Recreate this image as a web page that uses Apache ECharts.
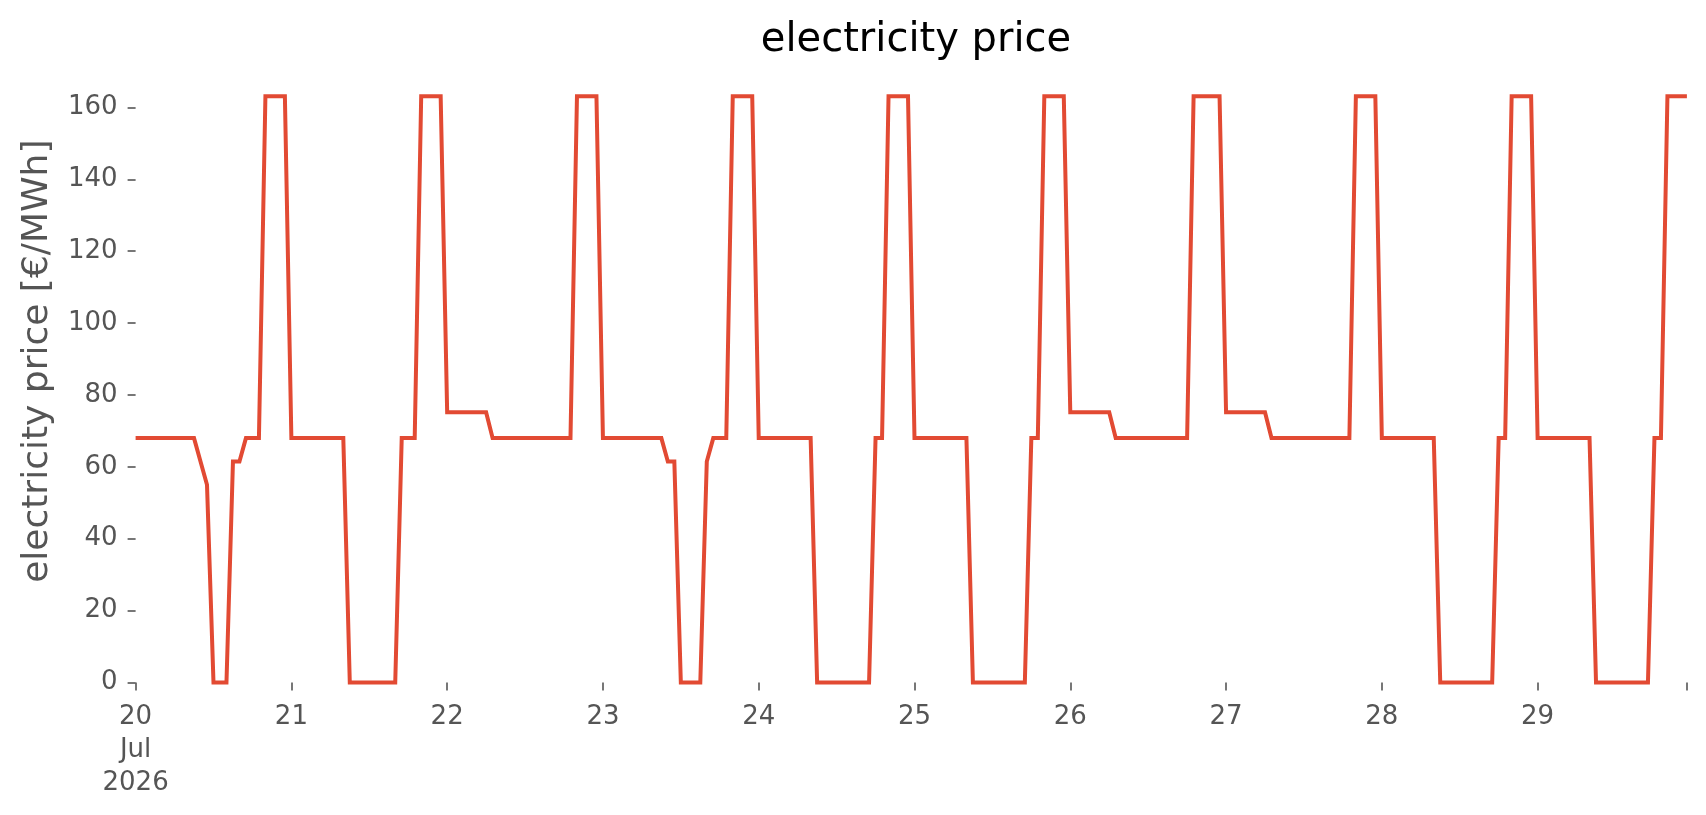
<!DOCTYPE html>
<html>
<head>
<meta charset="utf-8">
<title>electricity price</title>
<script src="https://cdn.jsdelivr.net/npm/echarts@6/dist/echarts.min.js"></script>
<style>
  html, body { margin: 0; padding: 0; background: #fff; }
  #chart { width: 1706px; height: 815px; }
</style>
</head>
<body>
<div id="chart"></div>
<script>
// hourly day-ahead price, 20 Jul 2026 00:00 .. 29 Jul 2026 23:00 [€/MWh]
var day20 = [68, 68, 68, 68, 68, 68, 68, 68, 68, 68, 61.5, 55, 0, 0, 0, 61.5, 61.5, 68, 68, 68, 163.1, 163.1, 163.1, 163.1];
var day21 = [68, 68, 68, 68, 68, 68, 68, 68, 68, 0, 0, 0, 0, 0, 0, 0, 0, 68, 68, 68, 163.1, 163.1, 163.1, 163.1];
var day22 = [75.2, 75.2, 75.2, 75.2, 75.2, 75.2, 75.2, 68, 68, 68, 68, 68, 68, 68, 68, 68, 68, 68, 68, 68, 163.1, 163.1, 163.1, 163.1];
var day23 = [68, 68, 68, 68, 68, 68, 68, 68, 68, 68, 61.5, 61.5, 0, 0, 0, 0, 61.5, 68, 68, 68, 163.1, 163.1, 163.1, 163.1];
var day24 = [68, 68, 68, 68, 68, 68, 68, 68, 68, 0, 0, 0, 0, 0, 0, 0, 0, 0, 68, 68, 163.1, 163.1, 163.1, 163.1];
var day25 = [68, 68, 68, 68, 68, 68, 68, 68, 68, 0, 0, 0, 0, 0, 0, 0, 0, 0, 68, 68, 163.1, 163.1, 163.1, 163.1];
var day26 = [75.2, 75.2, 75.2, 75.2, 75.2, 75.2, 75.2, 68, 68, 68, 68, 68, 68, 68, 68, 68, 68, 68, 68, 163.1, 163.1, 163.1, 163.1, 163.1];
var day27 = [75.2, 75.2, 75.2, 75.2, 75.2, 75.2, 75.2, 68, 68, 68, 68, 68, 68, 68, 68, 68, 68, 68, 68, 68, 163.1, 163.1, 163.1, 163.1];
var day28 = [68, 68, 68, 68, 68, 68, 68, 68, 68, 0, 0, 0, 0, 0, 0, 0, 0, 0, 68, 68, 163.1, 163.1, 163.1, 163.1];
var day29 = [68, 68, 68, 68, 68, 68, 68, 68, 68, 0, 0, 0, 0, 0, 0, 0, 0, 0, 68, 68, 163.1, 163.1, 163.1, 163.1];

var dayLabels = ['20\nJul\n2026', '21', '22', '23', '24', '25', '26', '27', '28', '29'];
var yTicks = [0, 20, 40, 60, 80, 100, 120, 140, 160];

var days = [day20, day21, day22, day23, day24, day25, day26, day27, day28, day29];

// [hour since start, price]
var points = [];
days.forEach(function (d, i) {
    d.forEach(function (v, h) {
        points.push([i * 24 + h, v]);
    });
});
var lastHour = points.length - 1;

var xTicks = dayLabels.map(function (l, i) { return i * 24; });
xTicks.push(lastHour);

var labelColor = '#555555';
var font = 'DejaVu Sans';

document.addEventListener('DOMContentLoaded', function () {
    var myChart = echarts.init(document.getElementById('chart'), null, { renderer: 'canvas' });

    var option = {
        animation: false,
        backgroundColor: '#ffffff',
        title: {
            text: 'electricity price',
            left: 911,
            textAlign: 'center',
            top: 16,
            textStyle: { fontFamily: font, fontSize: 40, fontWeight: 'normal', color: '#000000' }
        },
        grid: { left: 135.6, right: 19.1, top: 35.6, bottom: 128.2 },
        xAxis: {
            type: 'value',
            min: 0,
            max: lastHour,
            axisLine: { show: false },
            splitLine: { show: false },
            axisTick: {
                show: true,
                length: 8,
                customValues: xTicks,
                lineStyle: { color: labelColor, width: 1.6 }
            },
            axisLabel: {
                customValues: xTicks,
                margin: 14,
                fontFamily: font,
                fontSize: 26,
                lineHeight: 33,
                color: labelColor,
                formatter: function (v) {
                    return v % 24 === 0 ? dayLabels[v / 24] : '';
                }
            }
        },
        yAxis: {
            type: 'value',
            min: -1.2,
            max: 180,
            name: 'electricity price [€/MWh]',
            nameLocation: 'middle',
            nameGap: 80,
            nameTextStyle: { fontFamily: font, fontSize: 36, color: labelColor },
            axisLine: { show: false },
            splitLine: { show: false },
            axisTick: {
                show: true,
                length: 8,
                customValues: yTicks,
                lineStyle: { color: labelColor, width: 1.6 }
            },
            axisLabel: {
                customValues: yTicks,
                margin: 18,
                fontFamily: font,
                fontSize: 26,
                color: labelColor
            }
        },
        series: [
            {
                type: 'line',
                data: points,
                showSymbol: false,
                symbol: 'none',
                lineStyle: { color: '#E24A33', width: 4, join: 'miter' },
                itemStyle: { color: '#E24A33' }
            }
        ]
    };

    option && myChart.setOption(option);
});
</script>
</body>
</html>
